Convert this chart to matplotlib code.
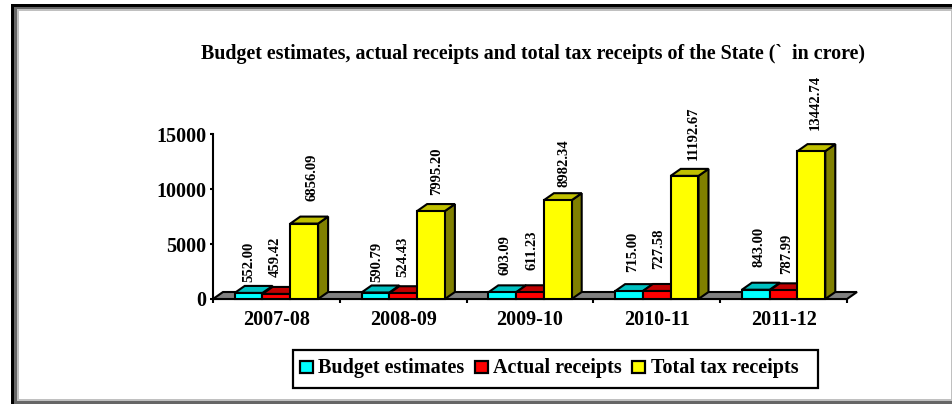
import matplotlib
matplotlib.use('Agg')
import matplotlib.pyplot as plt
from matplotlib.patches import Rectangle

plt.rcParams['font.family'] = ['Liberation Serif', 'DejaVu Sans']
plt.rcParams['font.weight'] = 'bold'

years = ['2007-08', '2008-09', '2009-10', '2010-11', '2011-12']
budget = [552.00, 590.79, 603.09, 715.00, 843.00]
actual = [459.42, 524.43, 611.23, 727.58, 787.99]
total_tax = [6856.09, 7995.20, 8982.34, 11192.67, 13442.74]
y_ticks = [0, 5000, 10000, 15000]
legend_names = ['Budget estimates', 'Actual receipts', 'Total tax receipts']
title = 'Budget estimates, actual receipts and total tax receipts of the State (`  in crore)'

W, H = 953, 404
fig = plt.figure(figsize=(W / 100, H / 100), dpi=100)

# pixel layer for the frame and legend
bg = fig.add_axes([0, 0, 1, 1])
bg.set_xlim(0, W)
bg.set_ylim(H, 0)
bg.axis('off')
bg.add_patch(Rectangle((11, 4), W - 11, H - 4, fc='black', ec='none'))
bg.add_patch(Rectangle((14, 7), W - 14, H - 7, fc='#666666', ec='none'))
bg.add_patch(Rectangle((17, 9), W - 17, 392, fc='#c0c0c0', ec='none'))
bg.add_patch(Rectangle((19, 11), 932, 388, fc='white', ec='none'))

# legend box, drawn by hand to keep the spacing of the original
bg.add_patch(Rectangle((293.5, 350), 525, 37.5, fc='white', ec='black', lw=1.6, zorder=5))
swatch_x = [300, 475, 632]
text_x = [318.5, 493, 651]
for sx, tx, c, name in zip(swatch_x, text_x, ['#00ffff', '#ff0000', '#ffff00'], legend_names):
    bg.add_patch(Rectangle((sx + 0.5, 360.5), 13, 12.5, fc=c, ec='black', lw=1.6, zorder=6))
    bg.text(tx, 368.5, name, ha='left', va='center', fontsize=14.5, fontweight='bold', zorder=6)

# data axes, 0 at y=299 and 15000 at y=134
x0, x1, y_bot, y_top = 213, 847, 299, 134
ax = fig.add_axes([x0 / W, 1 - y_bot / H, (x1 - x0) / W, (y_bot - y_top) / H])
ax.set_xlim(0, 5)
ax.set_ylim(0, 15000)
ax.patch.set_alpha(0)
for s in ['top', 'right']:
    ax.spines[s].set_visible(False)
for s in ['left', 'bottom']:
    ax.spines[s].set_linewidth(1.5)
    ax.spines[s].set_zorder(1)

px = 5 / (x1 - x0)
py = 15000 / (y_bot - y_top)
dx = 10 * px
dy = 7 * py
bw = 27.8 * px


def box(x, h, front, top, side, z):
    kw = dict(edgecolor='black', linewidth=1.5, joinstyle='miter', zorder=z, clip_on=False)
    ax.fill([x + bw, x + bw + dx, x + bw + dx, x + bw], [0, dy, h + dy, h], facecolor=side, **kw)
    ax.fill([x, x + dx, x + bw + dx, x + bw], [h, h + dy, h + dy, h], facecolor=top, **kw)
    ax.fill([x, x + bw, x + bw, x], [0, 0, h, h], facecolor=front, **kw)


# floor
ax.fill([0, dx, 5 + dx, 5], [0, dy, dy, 0], facecolor='#808080', edgecolor='black',
        linewidth=1.5, zorder=2, clip_on=False, joinstyle='miter')

# label nudges in pixels, (right, up) from the top of each bar
label_dx = [[0, -1, 8], [1, 0, 6], [2.5, 2, 6], [3.5, 2, 9], [3, 3, 4]]
label_dy = [[11, 17, 23], [11, 16, 16], [17, 22, 13], [19, 22, 16], [23, 16, 21]]
for i in range(len(years)):
    start = i + 0.5 - 1.5 * bw
    series = [(budget[i], '#00ffff', '#00c0c0', '#008080'),
              (actual[i], '#ff0000', '#c00000', '#800000'),
              (total_tax[i], '#ffff00', '#c0c000', '#808000')]
    for j, (v, front, top, side) in enumerate(series):
        x = start + j * bw
        box(x, v, front, top, side, 3 + j)
        ax.annotate(f'{v:.2f}', (x + bw / 2, v),
                    xytext=(label_dx[i][j] * 0.72, label_dy[i][j] * 0.72),
                    textcoords='offset points', rotation=90, ha='center', va='bottom',
                    fontsize=10.5, fontweight='bold', zorder=10, annotation_clip=False)

ax.set_xticks(range(6))
ax.set_xticklabels([])
ax.set_xticks([i + 0.5 for i in range(5)], labels=years, minor=True)
ax.tick_params(axis='x', which='major', length=3, width=1.5)
ax.tick_params(axis='x', which='minor', length=0, pad=8, labelsize=14.5)
ax.set_yticks(y_ticks)
ax.tick_params(axis='y', length=2.5, width=1.5, pad=2, labelsize=14.5)

fig.text(533 / W, 1 - 53.5 / H, title, ha='center', va='center', fontsize=14.4, fontweight='bold')

fig.savefig('out.png', dpi=100)
